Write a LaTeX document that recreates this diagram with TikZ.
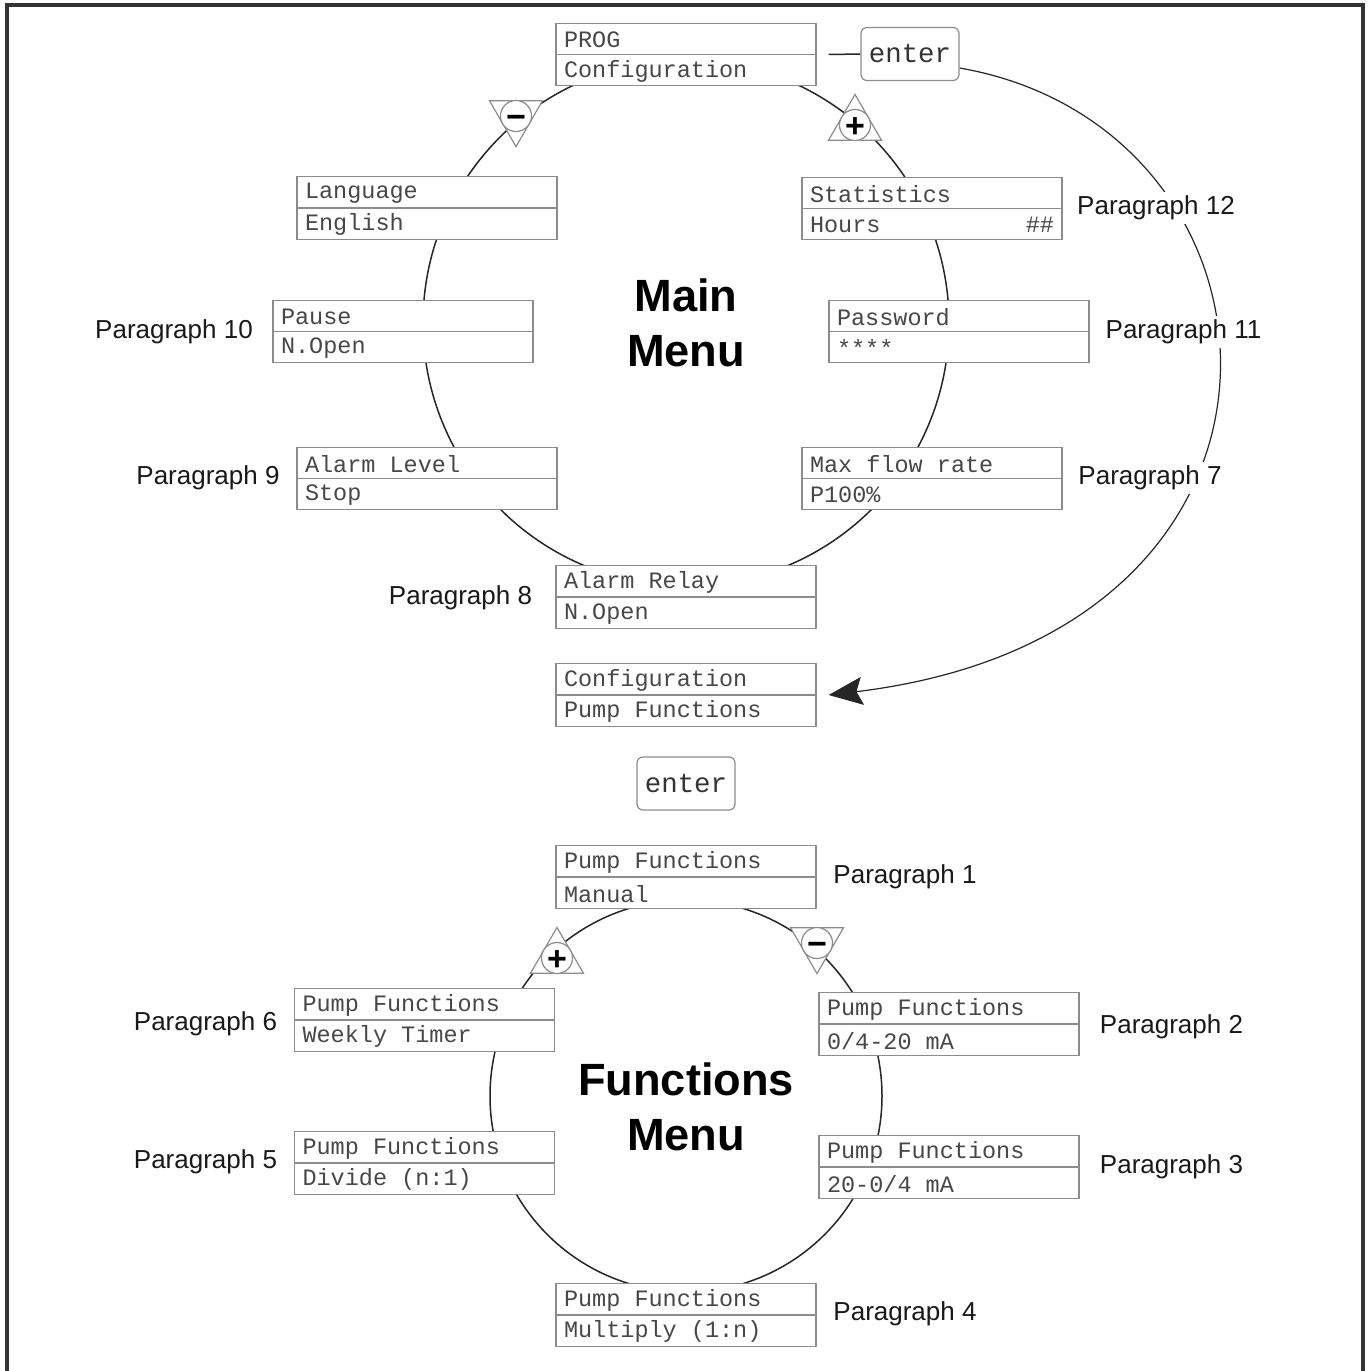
\documentclass[tikz,border=0pt]{standalone}
\usepackage{fontspec}
\setmainfont{Liberation Sans}
\setmonofont{Liberation Mono}
\usetikzlibrary{shapes.multipart,shapes.geometric,arrows.meta,backgrounds}

\newcommand{\lcdrow}[1]{\parbox[c][15pt][c]{122pt}{\vspace{1pt}#1}}

\tikzset{
  lcd/.style={rectangle split, rectangle split parts=2, draw=black!45, line width=0.6pt,
    fill=white, inner xsep=4pt, inner ysep=0pt, text=black!72,
    font=\ttfamily\fontsize{11.75}{14}\selectfont},
  para/.style={fill=white, inner sep=2pt, text=black!90, font=\fontsize{13}{15}\selectfont},
  key/.style={draw=black!45, line width=0.6pt, rounded corners=3pt, fill=white,
    minimum width=49pt, minimum height=26.5pt, inner sep=0pt, text=black!80,
    font=\ttfamily\fontsize{13.7}{16}\selectfont},
  tri/.style={regular polygon, regular polygon sides=3, draw=black!45, line width=0.6pt,
    fill=white, minimum size=30.6pt, inner sep=0pt},
  sgn/.style={circle, draw=black!45, line width=0.6pt, fill=white, minimum size=14.5pt,
    inner sep=0pt, text height=12pt, text depth=0pt, font=\bfseries\fontsize{17}{17}\selectfont},
  ring/.style={line width=0.75pt, black!85},
  title/.style={align=center, font=\bfseries\fontsize{22.6}{27.5}\selectfont},
  frame/.style={line width=1.6pt, black!80}
}

\begin{document}
\begin{tikzpicture}[x=0.5pt,y=-0.5pt]
\useasboundingbox (0,0) rectangle (1370,1371);
\draw[frame] (7,1371) -- (7,5) -- (1363,5) -- (1363,1371);

\coordinate (mainc) at (686,323);
\coordinate (funcc) at (686,1096);

\node[title] (maintitle) at (686,323) {Main\\Menu};
\node[title] (functitle) at (686,1107) {Functions\\Menu};

\node[lcd] (prog) at (686,54.5) {\lcdrow{PROG}\nodepart{two}\lcdrow{Configuration}};
\node[lcd] (lang) at (427,208) {\lcdrow{Language}\nodepart{two}\lcdrow{English}};
\node[lcd] (stats) at (932,208.5) {\lcdrow{Statistics}\nodepart{two}\lcdrow{Hours\hfill\#\#}};
\node[lcd] (pause) at (403,331.5) {\lcdrow{Pause}\nodepart{two}\lcdrow{N.Open}};
\node[lcd] (pwd) at (959,331.5) {\lcdrow{Password}\nodepart{two}\lcdrow{****}};
\node[lcd] (alarm) at (427,478.5) {\lcdrow{Alarm Level}\nodepart{two}\lcdrow{Stop}};
\node[lcd] (maxflow) at (932,478.5) {\lcdrow{Max flow rate}\nodepart{two}\lcdrow{P100\%}};
\node[lcd] (relay) at (686,597) {\lcdrow{Alarm Relay}\nodepart{two}\lcdrow{N.Open}};
\node[lcd] (cfg) at (686,695) {\lcdrow{Configuration}\nodepart{two}\lcdrow{Pump Functions}};

\node[lcd] (manual) at (686,877) {\lcdrow{Pump Functions}\nodepart{two}\lcdrow{Manual}};
\node[lcd] (weekly) at (424.5,1020) {\lcdrow{Pump Functions}\nodepart{two}\lcdrow{Weekly Timer}};
\node[lcd] (ma1) at (949,1024) {\lcdrow{Pump Functions}\nodepart{two}\lcdrow{0/4-20 mA}};
\node[lcd] (divide) at (424.5,1163) {\lcdrow{Pump Functions}\nodepart{two}\lcdrow{Divide (n:1)}};
\node[lcd] (ma2) at (949,1167) {\lcdrow{Pump Functions}\nodepart{two}\lcdrow{20-0/4 mA}};
\node[lcd] (multiply) at (686,1315) {\lcdrow{Pump Functions}\nodepart{two}\lcdrow{Multiply (1:n)}};

\node[key] (enter1) at (910,54) {enter};
\node[key] (enter2) at (686,783.5) {enter};

\node[tri, shape border rotate=180] (minustri) at (516,116) {};
\node[sgn] (minusm) at (minustri) {\char"2212};
\node[tri] (plustri) at (855,125) {};
\node[sgn] (plusm) at (plustri) {+};
\node[tri] (plustrf) at (557,958) {};
\node[sgn] (plusf) at (plustrf) {+};
\node[tri, shape border rotate=180] (minustrf) at (817,943) {};
\node[sgn] (minusf) at (minustrf) {\char"2212};

\node[para] (p12) at (1156,208) {Paragraph 12};
\node[para] (p11) at (1183.5,332) {Paragraph 11};
\node[para] (p10) at (174,332) {Paragraph 10};
\node[para] (p9) at (208,478) {Paragraph 9};
\node[para] (p7) at (1150,478) {Paragraph 7};
\node[para] (p8) at (460.5,598) {Paragraph 8};
\node[para] (p1) at (905,877) {Paragraph 1};
\node[para] (p6) at (205.5,1024) {Paragraph 6};
\node[para] (p2) at (1171.5,1027) {Paragraph 2};
\node[para] (p5) at (205.5,1162) {Paragraph 5};
\node[para] (p3) at (1171.5,1167) {Paragraph 3};
\node[para] (p4) at (905,1314) {Paragraph 4};

\begin{scope}[on background layer]
  \draw[ring] (mainc) circle[radius=131.5pt];
  \draw[ring] (funcc) circle[radius=98pt];
  \draw[ring] ([xshift=6pt]prog.east) -- (enter1.west);
  \draw[ring, line width=0.6pt, -{Stealth[length=17pt,width=14pt,inset=3pt]}]
    ([yshift=-7pt]enter1.east) .. controls +(345,60) and +(515,-62) .. ([xshift=6pt]cfg.east);
\end{scope}
\end{tikzpicture}
\end{document}
